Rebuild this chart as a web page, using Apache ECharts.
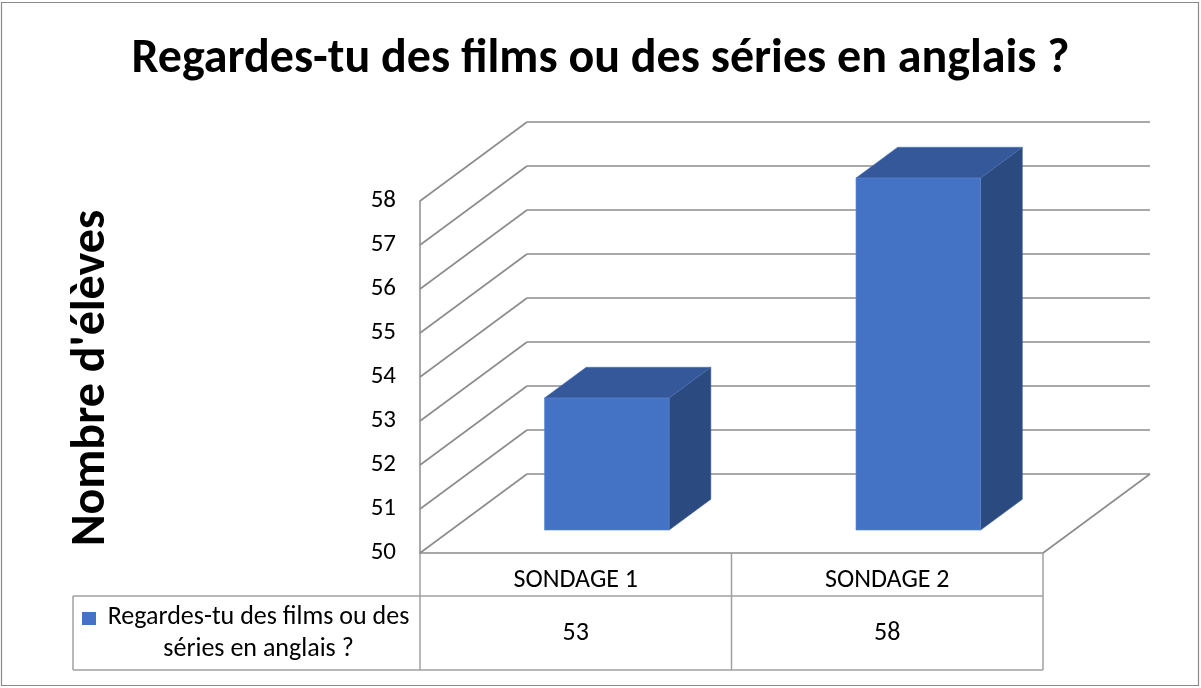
<!DOCTYPE html>
<html>
<head>
<meta charset="utf-8">
<script src="https://cdn.jsdelivr.net/npm/echarts@6/dist/echarts.min.js"></script>
<style>
  html, body { margin: 0; padding: 0; background: #fff; }
  #chart { width: 1201px; height: 688px; }
</style>
</head>
<body>
<div id="chart"></div>
<script>
// Survey results
const categories = ['SONDAGE 1', 'SONDAGE 2'];
const values = [53, 58];
const seriesName = 'Regardes-tu des films ou des séries en anglais ?';
const legendLines = ['Regardes-tu des films ou des', 'séries en anglais ?'];
const titleText = 'Regardes-tu des films ou des séries en anglais ?';
const axisTitle = "Nombre d'élèves";
const axisMin = 50;
const axisMax = 58;
const axisStep = 1;
const tickValues = [50, 51, 52, 53, 54, 55, 56, 57, 58];

// Look of the pseudo-3D box
const FONT = 'Carlito, Calibri, Lato, sans-serif';
const DEPTH_X = 107;       // back wall offset, px
const DEPTH_Y = 79;
const BAR_FRONT = 0.29;    // bar depth span as a fraction of the floor depth
const BAR_BACK = 0.68;
const BAR_RATIO = 0.4;     // bar width as a share of the category band
const LINE = '#8c8c8c';
const TABLE_LINE = '#a0a0a0';
const COL_FRONT = '#4472C4';
const COL_TOP = '#34589a';
const COL_SIDE = '#2b4a80';
const HEADER_H = 43;
const TABLE_H = 117;
const LEGEND_LEFT = 73;
const TEXT_SIZE = 26;

const chart = echarts.init(document.getElementById('chart'), null, { renderer: 'canvas' });

function wallLines(params, api) {
  const cs = params.coordSys;
  const v = api.value(1);
  const y = api.coord([0, v])[1];
  const style = { stroke: LINE, lineWidth: 1.6 };
  const children = [{
    type: 'line',
    shape: { x1: cs.x, y1: y, x2: cs.x + DEPTH_X, y2: y - DEPTH_Y },
    style
  }];
  if (v === axisMin) {
    children.push({
      type: 'line',
      shape: { x1: cs.x + cs.width, y1: y, x2: cs.x + cs.width + DEPTH_X, y2: y - DEPTH_Y },
      style
    });
  }
  return { type: 'group', children };
}

function bar3d(params, api) {
  const i = api.value(0);
  const v = api.value(1);
  const base = api.coord([i, axisMin]);
  const top = api.coord([i, v]);
  const band = api.size([1, 0])[0];
  const w = band * BAR_RATIO;
  const fx = BAR_FRONT * DEPTH_X, fy = BAR_FRONT * DEPTH_Y;
  const dx = (BAR_BACK - BAR_FRONT) * DEPTH_X, dy = (BAR_BACK - BAR_FRONT) * DEPTH_Y;
  const x0 = base[0] - w / 2 + fx;
  const x1 = x0 + w;
  const yT = top[1] - fy;
  const yB = base[1] - fy;
  return {
    type: 'group',
    children: [
      {
        type: 'polygon',
        shape: { points: [[x1, yT], [x1 + dx, yT - dy], [x1 + dx, yB - dy], [x1, yB]] },
        style: { fill: COL_SIDE, stroke: '#3a5a94', lineWidth: 0.6 }
      },
      {
        type: 'polygon',
        shape: { points: [[x0, yT], [x0 + dx, yT - dy], [x1 + dx, yT - dy], [x1, yT]] },
        style: { fill: COL_TOP, stroke: '#4a6db0', lineWidth: 0.6 }
      },
      {
        type: 'rect',
        shape: { x: x0, y: yT, width: w, height: yB - yT },
        style: { fill: COL_FRONT, stroke: '#6189d0', lineWidth: 0.6 }
      }
    ]
  };
}

function tableCells(params, api) {
  const cs = params.coordSys;
  const i = api.value(0);
  const v = api.value(1);
  const cx = api.coord([i, axisMin])[0];
  const band = api.size([1, 0])[0];
  const y0 = cs.y + cs.height;
  const line = { stroke: TABLE_LINE, lineWidth: 1.5 };
  const rowMid = y0 + HEADER_H + (TABLE_H - HEADER_H) / 2;
  const children = [
    { type: 'line', shape: { x1: cx + band / 2, y1: y0, x2: cx + band / 2, y2: y0 + TABLE_H }, style: line },
    {
      type: 'text',
      style: {
        text: String(v), x: cx, y: rowMid,
        align: 'center', verticalAlign: 'middle',
        font: TEXT_SIZE + 'px ' + FONT, fill: '#000'
      }
    }
  ];
  if (i === 0) {
    const right = cs.x + cs.width;
    children.push(
      { type: 'line', shape: { x1: cs.x, y1: y0, x2: cs.x, y2: y0 + TABLE_H }, style: line },
      { type: 'line', shape: { x1: LEGEND_LEFT, y1: y0 + HEADER_H, x2: right, y2: y0 + HEADER_H }, style: line },
      { type: 'line', shape: { x1: LEGEND_LEFT, y1: y0 + TABLE_H, x2: right, y2: y0 + TABLE_H }, style: line },
      { type: 'line', shape: { x1: LEGEND_LEFT, y1: y0 + HEADER_H, x2: LEGEND_LEFT, y2: y0 + TABLE_H }, style: line }
    );
    const midX = (LEGEND_LEFT + cs.x) / 2 + 12;
    children.push(
      {
        type: 'text',
        style: {
          text: legendLines[0], x: midX, y: rowMid - 16,
          align: 'center', verticalAlign: 'middle', font: TEXT_SIZE + 'px ' + FONT, fill: '#000'
        }
      },
      {
        type: 'text',
        style: {
          text: legendLines[1], x: midX, y: rowMid + 16,
          align: 'center', verticalAlign: 'middle', font: TEXT_SIZE + 'px ' + FONT, fill: '#000'
        }
      },
      {
        type: 'rect',
        shape: { x: LEGEND_LEFT + 9, y: rowMid - 21, width: 14, height: 13 },
        style: { fill: COL_FRONT }
      }
    );
  }
  return { type: 'group', children };
}

const barData = values.map((v, i) => [i, v]);

chart.setOption({
  animation: false,
  backgroundColor: '#fff',
  title: {
    text: titleText,
    left: 'center',
    top: 31,
    textStyle: { fontFamily: FONT, fontSize: 48, fontWeight: 'bold', color: '#000' }
  },
  graphic: [
    {
      type: 'rect',
      shape: { x: 1.5, y: 2.5, width: 1197, height: 683 },
      style: { fill: 'none', stroke: '#8a8a8a', lineWidth: 1.2 },
      silent: true
    },
    {
      type: 'text',
      x: 92, y: 378, rotation: Math.PI / 2,
      style: {
        text: axisTitle, align: 'center', verticalAlign: 'middle',
        font: 'bold 48px ' + FONT, fill: '#000'
      }
    }
  ],
  grid: [
    { left: 420, top: 201, width: 623, height: 352 },
    { left: 527, top: 122, width: 623, height: 352 }
  ],
  xAxis: [
    {
      type: 'category', gridIndex: 0, data: categories,
      axisLine: { show: true, lineStyle: { color: LINE, width: 1.5 } },
      axisTick: { show: false },
      axisLabel: { margin: 14, fontFamily: FONT, fontSize: TEXT_SIZE, color: '#000' }
    },
    {
      type: 'category', gridIndex: 1, data: categories, show: false
    }
  ],
  yAxis: [
    {
      type: 'value', gridIndex: 0, min: axisMin, max: axisMax, interval: axisStep,
      axisLine: { show: true, lineStyle: { color: LINE, width: 1.5 } },
      axisTick: { show: false },
      splitLine: { show: false },
      axisLabel: { margin: 24, padding: [6, 0, 0, 0], fontFamily: FONT, fontSize: 25, color: '#000' }
    },
    {
      type: 'value', gridIndex: 1, min: axisMin, max: axisMax, interval: axisStep,
      axisLine: { show: false }, axisTick: { show: false }, axisLabel: { show: false },
      splitLine: { show: true, lineStyle: { color: LINE, width: 1.6 } }
    }
  ],
  series: [
    {
      name: 'walls', type: 'custom', xAxisIndex: 0, yAxisIndex: 0,
      data: tickValues.map(v => [0, v]),
      renderItem: wallLines, silent: true, z: 1
    },
    {
      name: seriesName, type: 'custom', xAxisIndex: 0, yAxisIndex: 0,
      data: barData, renderItem: bar3d, z: 3
    },
    {
      name: 'table', type: 'custom', xAxisIndex: 0, yAxisIndex: 0,
      data: barData, renderItem: tableCells, silent: true, z: 2, clip: false
    }
  ]
});
</script>
</body>
</html>
